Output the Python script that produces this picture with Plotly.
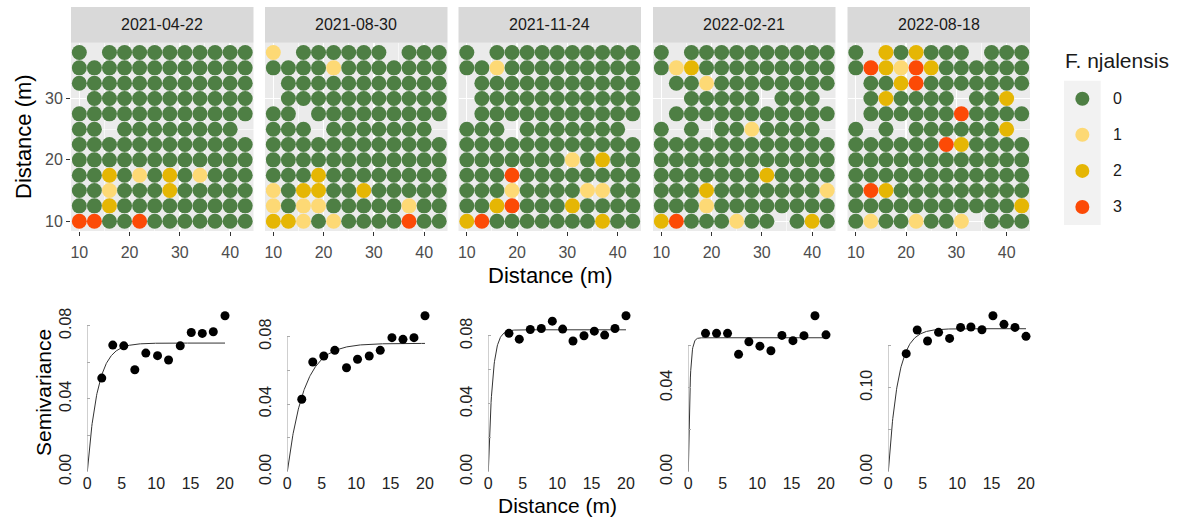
import numpy as np
import plotly.graph_objects as go

W, H = 1189, 520
FONT = "Liberation Sans, Arial, sans-serif"

# ---------------- data ----------------
dates = ["2021-04-22", "2021-08-30", "2021-11-24", "2022-02-21", "2022-08-18"]
x_positions = [10, 13, 16, 19, 22, 25, 28, 31, 34, 37, 40, 43]
y_positions = [37.5, 35, 32.5, 30, 27.5, 25, 22.5, 20, 17.5, 15, 12.5, 10]  # rows top -> bottom

# '.' = no plant, digits = F. njalensis class
grid_2021_04_22 = [
    "0.0000000000",
    "000000000000",
    "000000000000",
    ".00000000000",
    "000000000000",
    "00.00000000.",
    "000000000000",
    "000000000000",
    "002010201000",
    "001000200000",
    "002000000000",
    "330030000000",
]
grid_2021_08_30 = [
    "1.000000.000",
    "000010000000",
    ".00000000000",
    ".00000000000",
    "00.000000000",
    "000.0000000.",
    "000000000000",
    "000000000000",
    "000200000000",
    "102200200000",
    "101100000100",
    "221010000300",
]
grid_2021_11_24 = [
    "0.0000000000",
    "001000000000",
    ".00000000000",
    ".00000000000",
    ".00000000000",
    "000.0000000.",
    "000000000000",
    "000000010200",
    "000300000000",
    "000100001100",
    "002300020000",
    "230000000200",
]
grid_2022_02_21 = [
    "0.0000000000",
    "012000000000",
    ".00100000000",
    "..00000.000.",
    ".00000000000",
    "0.0.0010000.",
    "000000000000",
    "000000000000",
    "000000020000",
    "000200000001",
    "000100000000",
    "23000100.020",
]
grid_2022_08_18 = [
    "0.202000.000",
    "032132000000",
    ".00230000000",
    ".020000.002.",
    ".00000030000",
    "0.0.0000002.",
    "000000320000",
    "000000000000",
    "000000000000",
    "032000000000",
    "000000000002",
    "01001001.000",
]
grids = [grid_2021_04_22, grid_2021_08_30, grid_2021_11_24, grid_2022_02_21, grid_2022_08_18]

classes = ["0", "1", "2", "3"]
class_colors = ["#4E7F44", "#FDD975", "#E5B604", "#FC4A06"]

# empirical semivariograms
lag_2021_04_22 = [2.1, 3.7, 5.3, 6.9, 8.5, 10.2, 11.8, 13.5, 15.1, 16.7, 18.3, 20.0]
gam_2021_04_22 = [0.0513, 0.0694, 0.0690, 0.0559, 0.0650, 0.0636, 0.0612, 0.0690, 0.0763, 0.0758, 0.0767, 0.0855]
lag_2021_08_30 = [2.1, 3.7, 5.3, 6.9, 8.6, 10.2, 11.9, 13.5, 15.2, 16.8, 18.4, 20.0]
gam_2021_08_30 = [0.0429, 0.0650, 0.0685, 0.0719, 0.0616, 0.0666, 0.0685, 0.0719, 0.0794, 0.0784, 0.0794, 0.0924]
lag_2021_11_24 = [3.0, 4.5, 6.1, 7.7, 9.3, 10.8, 12.3, 13.9, 15.4, 16.9, 18.4, 20.0]
gam_2021_11_24 = [0.0814, 0.0780, 0.0837, 0.0843, 0.0886, 0.0839, 0.0769, 0.0800, 0.0827, 0.0804, 0.0843, 0.0918]
lag_2022_02_21 = [2.5, 4.1, 5.7, 7.3, 8.8, 10.4, 12.0, 13.6, 15.2, 16.8, 18.4, 20.0]
gam_2022_02_21 = [0.0659, 0.0659, 0.0659, 0.0559, 0.0619, 0.0598, 0.0576, 0.0649, 0.0624, 0.0648, 0.0743, 0.0652]
lag_2022_08_18 = [2.6, 4.2, 5.7, 7.3, 8.9, 10.5, 12.0, 13.6, 15.2, 16.8, 18.4, 20.0]
gam_2022_08_18 = [0.1405, 0.1687, 0.1556, 0.1659, 0.1587, 0.1718, 0.1722, 0.1690, 0.1857, 0.1754, 0.1718, 0.1611]
lags = [lag_2021_04_22, lag_2021_08_30, lag_2021_11_24, lag_2022_02_21, lag_2022_08_18]
gams = [gam_2021_04_22, gam_2021_08_30, gam_2021_11_24, gam_2022_02_21, gam_2022_08_18]

# fitted exponential models (nugget 0)
model_sill = [0.0705, 0.0760, 0.0835, 0.0638, 0.1702]
model_range = [1.5, 2.4, 0.6, 0.25, 1.4]

vg_yticks = [
    [0, 0.02, 0.04, 0.06, 0.08],
    [0, 0.02, 0.04, 0.06, 0.08],
    [0, 0.02, 0.04, 0.06, 0.08],
    [0, 0.02, 0.04, 0.06],
    [0, 0.05, 0.10, 0.15],
]
vg_ytext = [
    ["0.00", "", "0.04", "", "0.08"],
    ["0.00", "", "0.04", "", "0.08"],
    ["0.00", "", "0.04", "", "0.08"],
    ["0.00", "", "0.04", ""],
    ["0.00", "", "0.10", ""],
]
vg_xticks = [0, 5, 10, 15, 20]
map_xticks = [10, 20, 30, 40]
map_yticks = [10, 20, 30]

# ---------------- layout geometry (pixels) ----------------
top_lefts = [71, 265, 458.5, 653, 847.5]
top_w = 182.5
top_y0, top_y1 = 42.7, 231.0
strip_y0 = 7.0
bot_lefts = [87.3, 287.3, 488.3, 688.3, 888.3]
bot_w = 137.7
bot_y0, bot_y1 = 315.7, 471.7


def xd(l, w):
    return [l / W, (l + w) / W]


def yd(t, b):
    return [1 - b / H, 1 - t / H]


def sfx(k):
    return "" if k == 1 else str(k)


fig = go.Figure()
layout = dict(
    width=W, height=H, margin=dict(l=0, r=0, t=0, b=0, autoexpand=False),
    paper_bgcolor="white", plot_bgcolor="rgba(0,0,0,0)",
    showlegend=False, font=dict(family=FONT),
)
shapes = []
annotations = []

# ---------------- top: maps ----------------
for i in range(5):
    k = i + 1
    s = sfx(k)
    xs_, ys_, cs_ = [], [], []
    for r, row in enumerate(grids[i]):
        for c, ch in enumerate(row):
            if ch == ".":
                continue
            xs_.append(x_positions[c])
            ys_.append(y_positions[r])
            cs_.append(class_colors[classes.index(ch)])
    fig.add_trace(go.Scatter(
        x=xs_, y=ys_, mode="markers", xaxis="x" + s, yaxis="y" + s,
        marker=dict(size=15, color=cs_, line=dict(width=0)), hoverinfo="skip",
    ))
    layout["xaxis" + s] = dict(
        domain=xd(top_lefts[i], top_w), range=[8.35, 44.65], anchor="y" + s,
        showgrid=True, gridcolor="white", gridwidth=1.3, zeroline=False, showline=False,
        tickvals=map_xticks, ticks="outside", ticklen=4, tickcolor="#333333", tickwidth=1,
        ticklabelstandoff=3,
        tickfont=dict(size=16, color="#4D4D4D", family=FONT),
        minor=dict(tickvals=[15, 25, 35], showgrid=True, gridcolor="white", gridwidth=0.6),
        fixedrange=True, automargin=False,
    )
    layout["yaxis" + s] = dict(
        domain=yd(top_y0, top_y1), range=[8.4, 39.1], anchor="x" + s,
        showgrid=True, gridcolor="white", gridwidth=1.3, zeroline=False, showline=False,
        tickvals=map_yticks, showticklabels=(i == 0), ticks="outside" if i == 0 else "",
        ticklen=4, tickcolor="#333333", tickwidth=1,
        tickfont=dict(size=16, color="#4D4D4D", family=FONT),
        minor=dict(tickvals=[15, 25, 35], showgrid=True, gridcolor="white", gridwidth=0.6),
        fixedrange=True, automargin=False,
    )
    # panel background
    shapes.append(dict(type="rect", xref="x" + s + " domain", yref="y" + s + " domain",
                       x0=0, x1=1, y0=0, y1=1, fillcolor="#EBEBEB",
                       line=dict(width=0), layer="below"))
    # strip
    shapes.append(dict(type="rect", xref="paper", yref="paper",
                       x0=top_lefts[i] / W, x1=(top_lefts[i] + top_w) / W,
                       y0=1 - top_y0 / H, y1=1 - strip_y0 / H,
                       fillcolor="#D9D9D9", line=dict(width=0), layer="below"))
    annotations.append(dict(text=dates[i], xref="paper", yref="paper",
                            x=(top_lefts[i] + top_w / 2) / W, y=1 - (strip_y0 + top_y0) / 2 / H,
                            showarrow=False, xanchor="center", yanchor="middle",
                            font=dict(size=16, color="#1A1A1A", family=FONT)))

# ---------------- bottom: variograms ----------------
for i in range(5):
    k = i + 6
    s = sfx(k)
    h = np.linspace(0, 20, 400)
    model = model_sill[i] * (1 - np.exp(-h / model_range[i]))
    fig.add_trace(go.Scatter(
        x=h, y=model, mode="lines", xaxis="x" + s, yaxis="y" + s,
        line=dict(color="#333333", width=1), hoverinfo="skip", cliponaxis=False,
    ))
    fig.add_trace(go.Scatter(
        x=lags[i], y=gams[i], mode="markers", xaxis="x" + s, yaxis="y" + s,
        marker=dict(size=9, color="black", line=dict(width=0)), hoverinfo="skip",
        cliponaxis=False,
    ))
    ymax = max(gams[i])
    layout["xaxis" + s] = dict(
        domain=xd(bot_lefts[i], bot_w), range=[0, 20], anchor="y" + s,
        showgrid=False, zeroline=False, showline=False, ticks="",
        tickvals=vg_xticks, tickfont=dict(size=16, color="#222222", family=FONT),
        fixedrange=True, automargin=False,
    )
    layout["yaxis" + s] = dict(
        domain=yd(bot_y0, bot_y1), range=[0, ymax], anchor="x" + s,
        showgrid=False, zeroline=False, showline=False,
        tickvals=vg_yticks[i], ticktext=vg_ytext[i], tickangle=-90,
        ticks="inside", ticklen=3, tickcolor="#AAAAAA", tickwidth=1,
        ticklabelstandoff=12,
        tickfont=dict(size=16, color="#222222", family=FONT),
        fixedrange=True, automargin=False,
    )
    shapes.append(dict(type="line", xref="x" + s, yref="y" + s,
                       x0=0, x1=0, y0=0, y1=vg_yticks[i][-1],
                       line=dict(color="#AAAAAA", width=1)))

# ---------------- legend (drawn as a small panel) ----------------
leg_l, leg_w, leg_t, leg_b = 1064, 36.7, 80.7, 225
fig.add_trace(go.Scatter(
    x=[0.5] * len(classes), y=[int(c) for c in classes], mode="markers",
    xaxis="x11", yaxis="y11", hoverinfo="skip",
    marker=dict(size=14, color=class_colors, line=dict(width=0)),
))
layout["xaxis11"] = dict(domain=xd(leg_l, leg_w), range=[0, 1], anchor="y11",
                         visible=False, fixedrange=True)
layout["yaxis11"] = dict(domain=yd(leg_t, leg_b), range=[3.5, -0.5], anchor="x11",
                         visible=False, fixedrange=True)
shapes.append(dict(type="rect", xref="paper", yref="paper",
                   x0=leg_l / W, x1=(leg_l + leg_w) / W, y0=1 - leg_b / H, y1=1 - leg_t / H,
                   fillcolor="#F2F2F2", line=dict(width=0), layer="below"))
for c in classes:
    annotations.append(dict(text=c, xref="paper", yref="y11", x=1111 / W, y=int(c),
                            showarrow=False, xanchor="left", yanchor="middle",
                            font=dict(size=16, color="#1A1A1A", family=FONT)))
annotations.append(dict(text="F. njalensis", xref="paper", yref="paper", x=1063 / W, y=1 - 60 / H,
                        showarrow=False, xanchor="left", yanchor="middle",
                        font=dict(size=21, color="#1A1A1A", family=FONT)))

# ---------------- axis titles ----------------
annotations.append(dict(text="Distance (m)", xref="paper", yref="paper", x=550 / W, y=1 - 275 / H,
                        showarrow=False, xanchor="center", yanchor="middle",
                        font=dict(size=22, color="black", family=FONT)))
annotations.append(dict(text="Distance (m)", xref="paper", yref="paper", x=24 / W, y=1 - 137 / H,
                        showarrow=False, xanchor="center", yanchor="middle", textangle=-90,
                        font=dict(size=22, color="black", family=FONT)))
annotations.append(dict(text="Semivariance", xref="paper", yref="paper", x=43 / W, y=1 - 393 / H,
                        showarrow=False, xanchor="center", yanchor="middle", textangle=-90,
                        font=dict(size=21, color="black", family=FONT)))
annotations.append(dict(text="Distance (m)", xref="paper", yref="paper", x=557 / W, y=1 - 505 / H,
                        showarrow=False, xanchor="center", yanchor="middle",
                        font=dict(size=21, color="black", family=FONT)))

layout["shapes"] = shapes
layout["annotations"] = annotations
fig.update_layout(**layout)
fig.write_html(
    "out.html",
    config={"displayModeBar": False, "staticPlot": True},
    post_script="document.body.style.margin='0';document.body.style.overflow='hidden';",
)
